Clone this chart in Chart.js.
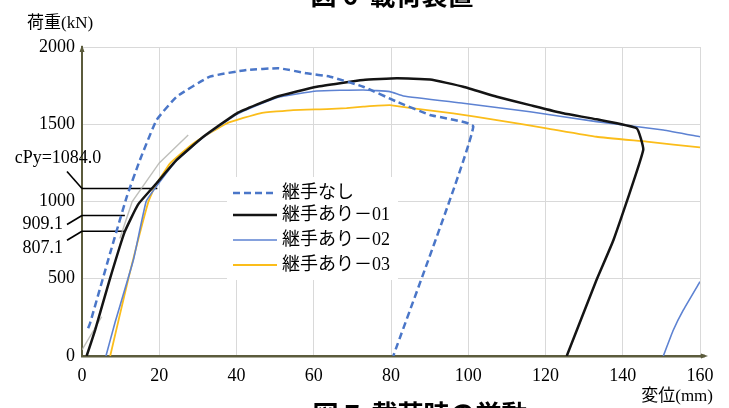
<!DOCTYPE html>
<html>
<head>
<meta charset="utf-8">
<script src="https://cdn.jsdelivr.net/npm/chart.js@4.4.0/dist/chart.umd.min.js"></script>
<style>
  html, body { margin: 0; padding: 0; background: #fff; }
  #wrap { width: 729px; height: 408px; position: relative; }
</style>
</head>
<body>
<div id="wrap"><canvas id="chart"></canvas></div>
<script>
// 変位(mm) / 荷重(kN)
const nashiX = [1.6, 2.1, 7.3, 11.6, 15.0, 19.3, 24.5, 33.1, 42.6, 51.0, 58.2, 64.2, 72.8, 81.5, 90.1, 101.3, 80.6];
const nashiY = [180, 213, 667, 1031, 1269, 1527, 1678, 1808, 1851, 1862, 1830, 1808, 1743, 1646, 1560, 1484, 0];

const ari01X = [1.2, 3.4, 7.0, 11.0, 14.5, 19.3, 24.5, 31.4, 40.1, 50.4, 60.8, 72.8, 81.5, 90.1, 98.7, 107.4, 116.0, 124.6, 133.2, 143.6, 145.3, 137.6, 133.2, 125.5];
const ari01Y = [0, 168, 480, 800, 980, 1118, 1269, 1419, 1571, 1678, 1743, 1786, 1797, 1790, 1743, 1678, 1624, 1571, 1532, 1474, 1333, 751, 492, 0];

const ari02X = [6.2, 8.5, 13.3, 16.6, 18.9, 24.5, 31.4, 40.1, 50.4, 60.8, 72.8, 79.7, 83.2, 98.7, 116.0, 133.2, 150.5, 160.0, 160.0, 150.5, 153.1, 155.7, 160.0];
const ari02Y = [0, 212, 621, 1000, 1085, 1265, 1415, 1565, 1672, 1715, 1722, 1711, 1683, 1636, 1581, 1517, 1463, 1419, null, 0, 168, 298, 481];

const ari03X = [7.3, 12.0, 17.2, 18.9, 22.8, 28.8, 37.5, 46.1, 54.7, 63.4, 68.5, 72.8, 79.7, 85.8, 96.1, 107.4, 120.3, 133.2, 146.2, 160.0];
const ari03Y = [0, 500, 1000, 1096, 1247, 1376, 1506, 1571, 1592, 1598, 1605, 1614, 1624, 1603, 1571, 1527, 1474, 1419, 1387, 1350];

// faint grey reference trace
const greyX = [0.0, 5.1, 5.1, 9.8, 13.0, 20.0, 27.5];
const greyY = [40, 254, null, 760, 1000, 1250, 1430];

// marked load levels and the displacement where each leader stops
const markValues = [1084.0, 909.1, 807.1];
const markEnds = [19.5, 11.1, 10.9];
const markLabels = ['cPy=1084.0', '909.1', '807.1'];

const xTicks = [0, 20, 40, 60, 80, 100, 120, 140, 160];
const yTicks = [0, 500, 1000, 1500, 2000];

const pts = (xs, ys) => xs.map((v, i) => ({ x: v, y: ys[i] }));

const SERIF = "'Liberation Serif', 'Noto Sans CJK JP', serif";
const AXIS = '#5b5b3c';

const datasets = [
  { label: '継手なし', data: pts(nashiX, nashiY), borderColor: '#4a76c8', borderWidth: 2.5, borderDash: [7, 4] },
  { label: '継手あり－01', data: pts(ari01X, ari01Y), borderColor: '#141414', borderWidth: 2.5 },
  { label: '継手あり－02', data: pts(ari02X, ari02Y), borderColor: '#5d82d2', borderWidth: 1.6 },
  { label: '継手あり－03', data: pts(ari03X, ari03Y), borderColor: '#fbbd1a', borderWidth: 1.8 },
  { label: 'grey', data: pts(greyX, greyY), borderColor: 'rgba(175,175,170,0.8)', borderWidth: 1.4 }
];
markValues.forEach((v, i) => {
  datasets.push({ label: 'mark' + i, data: [{ x: 0, y: v }, { x: markEnds[i], y: v }], borderColor: '#000', borderWidth: 1.6 });
});
datasets.forEach(d => { d.pointRadius = 0; d.fill = false; d.tension = 0.12; d.spanGaps = false; });
datasets.slice(4).forEach(d => { d.tension = 0; });

const extras = {
  id: 'extras',
  afterDatasetsDraw(chart) {
    const { ctx, chartArea: a, scales: { x, y } } = chart;
    ctx.save();

    // arrows on the axes
    ctx.strokeStyle = AXIS;
    ctx.fillStyle = AXIS;
    ctx.lineWidth = 2.5;
    ctx.beginPath();
    ctx.moveTo(a.right, a.bottom);
    ctx.lineTo(a.right + 5, a.bottom);
    ctx.stroke();
    ctx.beginPath();
    ctx.moveTo(a.right + 8, a.bottom);
    ctx.lineTo(a.right + 1, a.bottom - 2.5);
    ctx.lineTo(a.right + 1, a.bottom + 2.5);
    ctx.closePath();
    ctx.fill();
    ctx.beginPath();
    ctx.moveTo(a.left, a.top - 2);
    ctx.lineTo(a.left - 2.5, a.top + 5);
    ctx.lineTo(a.left + 2.5, a.top + 5);
    ctx.closePath();
    ctx.fill();

    // leaders and labels for the marked loads
    ctx.strokeStyle = '#000';
    ctx.lineWidth = 1.6;
    ctx.fillStyle = '#000';
    ctx.font = '18px ' + SERIF;
    ctx.textBaseline = 'middle';
    markValues.forEach((v, i) => {
      const px = x.getPixelForValue(0);
      const py = y.getPixelForValue(v);
      const dy = i === 0 ? -17 : 9;
      ctx.beginPath();
      ctx.moveTo(px, py);
      ctx.lineTo(px - 15, py + dy);
      ctx.stroke();
      if (i === 0) {
        ctx.textAlign = 'center';
        ctx.fillText(markLabels[i], px - 24, py + dy - 13);
      } else {
        ctx.textAlign = 'right';
        ctx.fillText(markLabels[i], px - 19, py + dy + (i === 2 ? 8 : 0));
      }
    });

    // legend box
    const lx = a.left + 145, ly = a.top + 130;
    ctx.fillStyle = '#fff';
    ctx.fillRect(lx, ly, 171, 103);
    const rows = [16, 38, 63, 88];
    ctx.font = '18px ' + SERIF;
    ctx.textAlign = 'left';
    for (let i = 0; i < 4; i++) {
      const d = chart.data.datasets[i];
      const ry = ly + rows[i];
      ctx.strokeStyle = d.borderColor;
      ctx.lineWidth = d.borderWidth;
      ctx.setLineDash(d.borderDash || []);
      ctx.beginPath();
      ctx.moveTo(lx + 6, ry);
      ctx.lineTo(lx + 50, ry);
      ctx.stroke();
      ctx.setLineDash([]);
      ctx.fillStyle = '#000';
      ctx.fillText(d.label, lx + 55, ry);
    }

    // axis titles
    ctx.font = '17px ' + SERIF;
    ctx.textAlign = 'left';
    ctx.fillText('荷重(kN)', 27, 24);
    ctx.textAlign = 'right';
    ctx.fillText('変位(mm)', 713, 397);

    // cut-off figure captions of the page
    ctx.font = 'bold 26px "Noto Sans CJK JP", sans-serif';
    ctx.textAlign = 'center';
    ctx.textBaseline = 'alphabetic';
    ctx.fillText('図 6  載荷装置', 392, 5);
    ctx.fillText('図 7  載荷時の挙動', 420, 424);

    ctx.restore();
  }
};

new Chart(document.getElementById('chart'), {
  type: 'line',
  data: { datasets },
  options: {
    responsive: true,
    maintainAspectRatio: false,
    animation: false,
    layout: { padding: { top: 47, right: 29, left: 0, bottom: 0 } },
    plugins: { legend: { display: false }, tooltip: { enabled: false } },
    scales: {
      x: {
        type: 'linear',
        min: 0, max: 160,
        afterFit: s => { s.height = 52; },
        afterBuildTicks: s => { s.ticks = xTicks.map(v => ({ value: v })); },
        grid: { color: '#d9d9d9', drawTicks: false },
        border: { color: AXIS, width: 2.5 },
        ticks: { color: '#000', padding: 9, font: { family: SERIF, size: 18 }, maxRotation: 0, callback: v => String(v) }
      },
      y: {
        min: 0, max: 2000,
        afterFit: s => { s.width = 82; },
        afterBuildTicks: s => { s.ticks = yTicks.map(v => ({ value: v })); },
        grid: { color: '#d9d9d9', drawTicks: false },
        border: { color: AXIS, width: 2 },
        ticks: { color: '#000', padding: 7, font: { family: SERIF, size: 18 }, callback: v => String(v) }
      }
    }
  },
  plugins: [extras]
});
</script>
</body>
</html>
